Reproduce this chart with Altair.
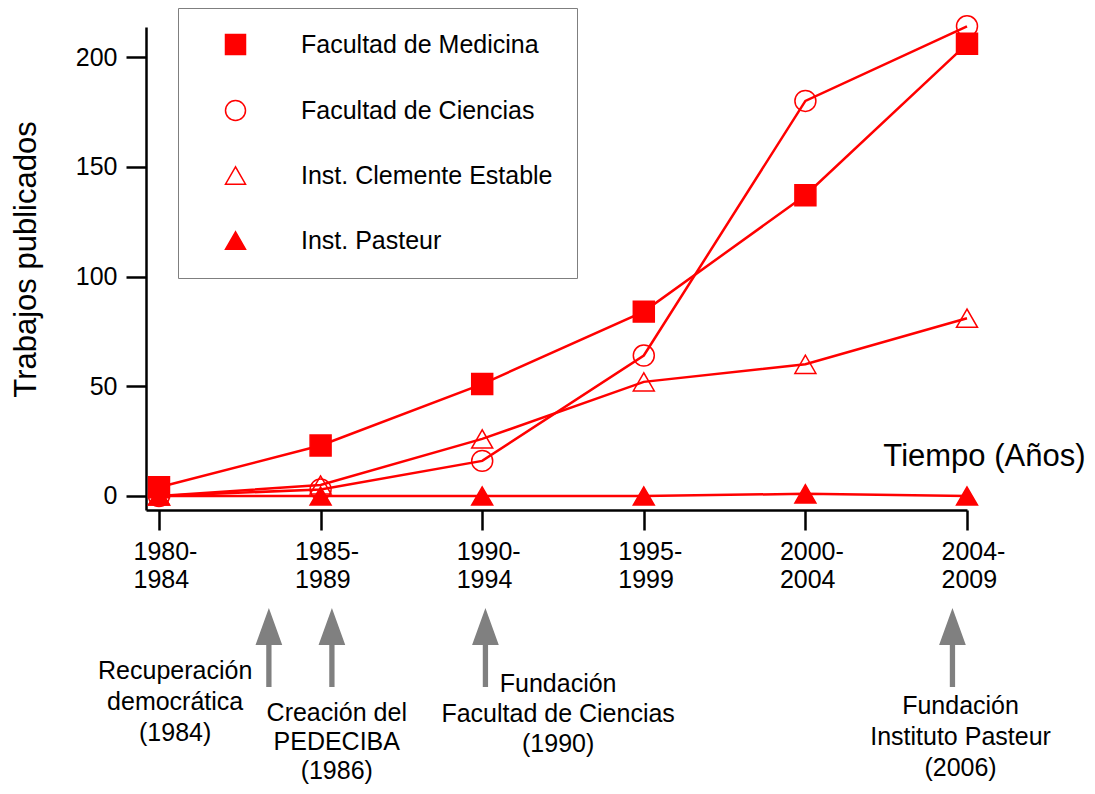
import json
import altair as alt
import pandas as pd

# ---------------- data ----------------
tick_labels = [["1980-", "1984"], ["1985-", "1989"], ["1990-", "1994"],
               ["1995-", "1999"], ["2000-", "2004"], ["2004-", "2009"]]
period_index = [0, 1, 2, 3, 4, 5]

series_names = ["Facultad de Medicina", "Facultad de Ciencias",
                "Inst. Clemente Estable", "Inst. Pasteur"]
medicina = [4, 23, 51, 84, 137, 206]
ciencias = [0, 3, 16, 64, 180, 214]
clemente = [0, 5, 26, 52, 60, 81]
pasteur = [0, 0, 0, 0, 1, 0]

event_texts = ["Recuperación\ndemocrática\n(1984)",
               "Creación del\nPEDECIBA\n(1986)",
               "Fundación\nFacultad de Ciencias\n(1990)",
               "Fundación\nInstituto Pasteur\n(2006)"]
event_pos = [0.68, 1.07, 2.02, 4.91]      # arrow position on the period axis

# ---------------- layout (styling) ----------------
label_pos = [0.10, 1.10, 2.47, 4.96]
label_baseline_px = [652, 694, 665, 687]
label_line_height = [31, 29, 30, 31]

rows = []
for name, vals in zip(series_names, [medicina, ciencias, clemente, pasteur]):
    for i, v in zip(period_index, vals):
        rows.append({"series": name, "idx": i, "value": v})
df = pd.DataFrame(rows)
ev_df = pd.DataFrame({"text": event_texts, "pos": event_pos, "lpos": label_pos})

FONT = "Liberation Sans"
RED = "#ff0000"

x_scale = alt.Scale(domain=[-0.0804, 5], nice=False, zero=False)
y_scale = alt.Scale(domain=[-6.38, 213.67], nice=False, zero=False)

label_expr = json.dumps(tick_labels, ensure_ascii=False) + "[datum.value]"

x_axis = alt.Axis(values=period_index, labelExpr=label_expr, title="Tiempo (Años)",
                  titleX=939, titleY=-45, titleAlign="right", titleBaseline="alphabetic",
                  titleFontSize=31, titleFontWeight="normal", titleColor="black",
                  labelAlign="left", labelOffset=-26, labelBaseline="top", labelPadding=9,
                  labelLineHeight=28, labelFontSize=25, labelColor="black",
                  labelFlush=False, labelOverlap=False, labelBound=False,
                  tickSize=20, tickWidth=2.5, tickColor="black",
                  domainWidth=2.5, domainColor="black", grid=False)

y_axis = alt.Axis(values=[0, 50, 100, 150, 200], title="Trabajos publicados",
                  titleX=-120, titleY=232, titleAngle=270, titleAlign="center",
                  titleBaseline="middle", titleFontSize=31, titleFontWeight="normal",
                  titleColor="black",
                  labelFontSize=25, labelColor="black", labelPadding=9,
                  labelFlush=False, labelOverlap=False,
                  tickSize=20, tickWidth=2.5, tickColor="black",
                  domainWidth=2.5, domainColor="black", grid=False)

legend = alt.Legend(title=None, orient="none", legendX=32, legendY=-19,
                    padding=24, symbolOffset=21, labelOffset=53, rowPadding=39,
                    labelFontSize=25, labelColor="black", labelFont=FONT, labelLimit=0,
                    symbolSize=400, symbolStrokeColor=RED, symbolStrokeWidth=1.5,
                    strokeColor="#7f7f7f", fillColor="white")

lines = alt.Chart(df).mark_line(color=RED, strokeWidth=2.5).encode(
    x=alt.X("idx:Q", scale=x_scale, axis=x_axis),
    y=alt.Y("value:Q", scale=y_scale, axis=y_axis),
    detail="series:N",
    order="idx:Q",
)

points = alt.Chart(df).mark_point(filled=True, size=440, strokeWidth=1.5,
                                  opacity=1).encode(
    x=alt.X("idx:Q", scale=x_scale),
    y=alt.Y("value:Q", scale=y_scale),
    shape=alt.Shape("series:N", scale=alt.Scale(domain=series_names,
                    range=["square", "circle", "triangle-up", "triangle-up"]), legend=legend),
    fill=alt.Fill("series:N", scale=alt.Scale(domain=series_names,
                  range=[RED, "transparent", "transparent", RED]), legend=legend),
    stroke=alt.Stroke("series:N", scale=alt.Scale(domain=series_names,
                      range=[RED, RED, RED, RED]), legend=legend),
)

arrow_path = ("M0,-1L0.338,-0.063L0.067,-0.063L0.067,1L-0.067,1L-0.067,-0.063"
              "L-0.338,-0.063Z")
arrows = alt.Chart(ev_df).mark_point(shape=arrow_path, size=6241, filled=True,
                                     fill="#808080", strokeWidth=0, opacity=1).encode(
    x=alt.X("pos:Q", scale=x_scale),
    y=alt.value(620.5),
)

texts = []
for i in range(len(event_texts)):
    texts.append(
        alt.Chart(ev_df.iloc[[i]]).mark_text(lineBreak="\n", fontSize=25,
                                             lineHeight=label_line_height[i],
                                             align="center", baseline="alphabetic",
                                             color="black", font=FONT).encode(
            x=alt.X("lpos:Q", scale=x_scale),
            y=alt.value(label_baseline_px[i]),
            text="text:N",
        )
    )

chart = alt.layer(lines, points, arrows, *texts).properties(
    width=821, height=483,
    autosize=alt.AutoSizeParams(type="none"),
    padding={"left": 138, "top": 19, "right": 120, "bottom": 276},
).configure(font=FONT).configure_view(strokeWidth=0)

chart.save("out.html", embed_options={"renderer": "svg", "actions": False})
